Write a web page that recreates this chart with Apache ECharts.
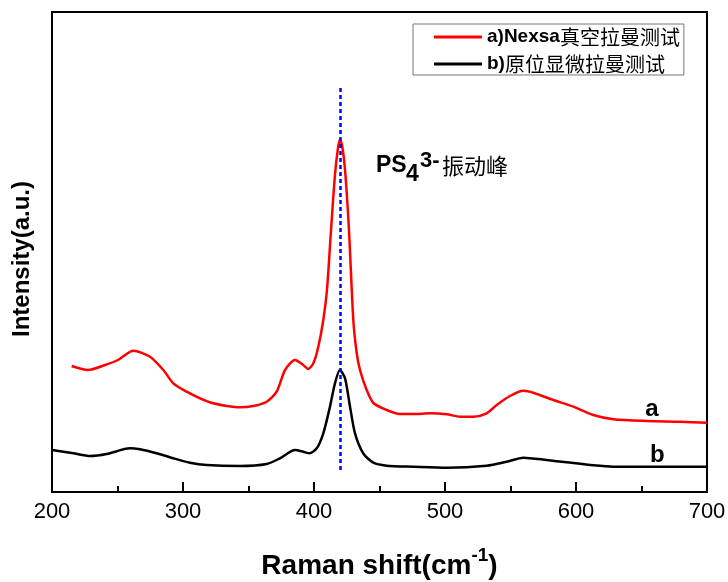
<!DOCTYPE html>
<html>
<head>
<meta charset="utf-8">
<script src="https://cdn.jsdelivr.net/npm/echarts@6/dist/echarts.min.js"></script>
<style>
  html, body { margin: 0; padding: 0; background: #fff; }
  #chart { width: 728px; height: 582px; }
</style>
</head>
<body>
<div id="chart"></div>
<script>
// Raman spectrum a): Nexsa vacuum Raman
const shiftA = [215, 227.5, 240.5, 250.4, 262.1, 274.8, 285.0, 292.6, 302.8, 313.0, 323.1, 333.4, 343.5, 353.7, 363.9, 371.5, 377.9, 385.5, 391.8, 395.6, 399.5, 403.3, 407.1, 409.9, 413.0, 416.0, 418.3, 419.8, 421.4, 423.7, 426.7, 430.0, 432.6, 435.1, 440.2, 445.3, 455.5, 465.6, 475.8, 488.5, 501.3, 511.5, 521.6, 531.8, 539.5, 549.6, 559.8, 567.4, 582.7, 597.9, 613.2, 628.5, 654.0, 679.4, 700];
const intensityA = [1260, 1220, 1270, 1320, 1413, 1353, 1220, 1087, 1003, 937, 887, 860, 847, 860, 903, 1003, 1220, 1320, 1270, 1230, 1287, 1453, 1720, 2020, 2620, 3170, 3440, 3520, 3470, 3220, 2620, 1720, 1390, 1220, 1020, 890, 820, 780, 780, 787, 777, 753, 753, 787, 870, 960, 1013, 993, 920, 853, 770, 727, 710, 703, 693];

// Raman spectrum b): in-situ micro Raman
const shiftB = [200, 216.3, 229.0, 241.8, 259.5, 267.2, 279.9, 292.6, 305.3, 318.1, 343.5, 363.9, 374.0, 385.5, 391.8, 396.4, 402.1, 407.1, 412.2, 416.0, 419.8, 423.7, 427.5, 431.3, 437.6, 445.3, 455.5, 475.8, 501.3, 531.8, 547.1, 559.8, 577.6, 592.9, 613.2, 628.5, 700];
const intensityB = [420, 387, 360, 380, 437, 427, 387, 337, 293, 270, 260, 280, 337, 420, 403, 387, 437, 587, 853, 1087, 1220, 1137, 853, 587, 387, 293, 263, 253, 243, 263, 303, 343, 320, 297, 267, 253, 253];

const seriesNames = ['a)Nexsa真空拉曼测试', 'b)原位显微拉曼测试'];
const curveTags = ['a', 'b'];
const tagPositions = [[658, 830], [662, 370]];

// PS4 3- band position and the extent of its marker line
const peakShift = 420;
const peakMarkerRange = [4040, 200];
const peakLabelAt = [447.3, 3190];

const xTicks = [200, 300, 400, 500, 600, 700];
const yRange = [0, 4800];

const LATIN = 'Liberation Sans, Arial, sans-serif';
const CJK = '"Noto Sans CJK SC", sans-serif';

function pairs(xs, ys) { return xs.map((x, i) => [x, ys[i]]); }

const chart = echarts.init(document.getElementById('chart'), null, { renderer: 'canvas' });

function tagPoint(i) {
  return {
    symbol: 'circle', symbolSize: 1,
    itemStyle: { color: 'rgba(0,0,0,0)' },
    label: {
      show: true, position: 'inside', formatter: curveTags[i],
      color: '#000', fontFamily: LATIN, fontWeight: 'bold', fontSize: 24
    },
    data: [{ coord: tagPositions[i] }]
  };
}

chart.setOption({
  animation: false,
  backgroundColor: '#fff',
  grid: {
    left: 52, right: 21, top: 12, bottom: 90,
    outerBoundsMode: 'none',
    containLabel: false,
    show: true, borderColor: '#000', borderWidth: 2, backgroundColor: 'transparent'
  },
  legend: {
    orient: 'vertical',
    left: 413, top: 24,
    padding: [3, 4, 1, 21],
    itemGap: 7,
    itemWidth: 48, itemHeight: 3,
    icon: 'rect',
    borderColor: '#777', borderWidth: 1, backgroundColor: '#fff',
    data: seriesNames,
    formatter: name => name.replace(/^([\x00-\x7F]+)(.*)$/, '{en|$1}{cn|$2}'),
    textStyle: {
      color: '#000',
      rich: {
        en: { fontFamily: LATIN, fontWeight: 'bold', fontSize: 19, color: '#000' },
        cn: { fontFamily: CJK, fontSize: 20, color: '#000' }
      }
    }
  },
  xAxis: {
    type: 'value',
    min: xTicks[0], max: xTicks[xTicks.length - 1], interval: 100,
    axisLine: { show: true, lineStyle: { color: '#000', width: 2 } },
    axisTick: { show: true, inside: true, length: 10, lineStyle: { color: '#000', width: 2 } },
    minorTick: { show: true, splitNumber: 2, length: 6, lineStyle: { color: '#000', width: 2 } },
    splitLine: { show: false },
    axisLabel: { color: '#000', fontFamily: LATIN, fontSize: 22, margin: 9 },
    name: '{m|Raman shift(cm}{s|-1}{m|)}',
    nameLocation: 'middle',
    nameGap: 54,
    nameTextStyle: {
      rich: {
        m: { fontFamily: LATIN, fontWeight: 'bold', fontSize: 28, lineHeight: 34, verticalAlign: 'bottom', color: '#000' },
        s: { fontFamily: LATIN, fontWeight: 'bold', fontSize: 19, lineHeight: 18, verticalAlign: 'top', color: '#000' }
      }
    }
  },
  yAxis: {
    type: 'value',
    min: yRange[0], max: yRange[1],
    axisLine: { show: true, lineStyle: { color: '#000', width: 2 } },
    axisTick: { show: false },
    axisLabel: { show: false },
    splitLine: { show: false },
    name: 'Intensity(a.u.)',
    nameLocation: 'middle',
    nameGap: 18,
    nameTextStyle: { fontFamily: LATIN, fontWeight: 'bold', fontSize: 24, color: '#000', padding: [0, 14, 0, 0] }
  },
  series: [
    {
      name: seriesNames[0], type: 'line', showSymbol: false, smooth: 0.25,
      data: pairs(shiftA, intensityA),
      lineStyle: { color: '#ff0000', width: 2.5 }, itemStyle: { color: '#ff0000' },
      markPoint: tagPoint(0),
      z: 3
    },
    {
      name: seriesNames[1], type: 'line', showSymbol: false, smooth: 0.25,
      data: pairs(shiftB, intensityB),
      lineStyle: { color: '#000', width: 2.5 }, itemStyle: { color: '#000' },
      markPoint: tagPoint(1),
      markLine: {
        silent: true, symbol: ['none', 'none'],
        label: { show: false },
        lineStyle: { color: '#0000ff', width: 2.5, type: [4, 3] },
        data: [[{ coord: [peakShift, peakMarkerRange[0]] }, { coord: [peakShift, peakMarkerRange[1]] }]]
      },
      z: 4
    }
  ]
});

// Peak annotation: PS4 with sub/superscripts, followed by the Chinese caption
const [ax, ay] = chart.convertToPixel({ xAxisIndex: 0, yAxisIndex: 0 }, peakLabelAt);
const piece = (text, dx, dy, font) => ({
  type: 'text', x: ax + dx, y: ay + dy,
  style: { text, font, fill: '#000', align: 'left', verticalAlign: 'middle' }
});
chart.setOption({
  graphic: [{
    type: 'group',
    children: [
      piece('PS', 0, -7.5, 'bold 23px ' + LATIN),
      piece('4', 30, 2, 'bold 23px ' + LATIN),
      piece('3-', 44, -12.5, 'bold 22px ' + LATIN),
      piece('振动峰', 66, -7.5, '22px ' + CJK)
    ]
  }]
});
</script>
</body>
</html>
